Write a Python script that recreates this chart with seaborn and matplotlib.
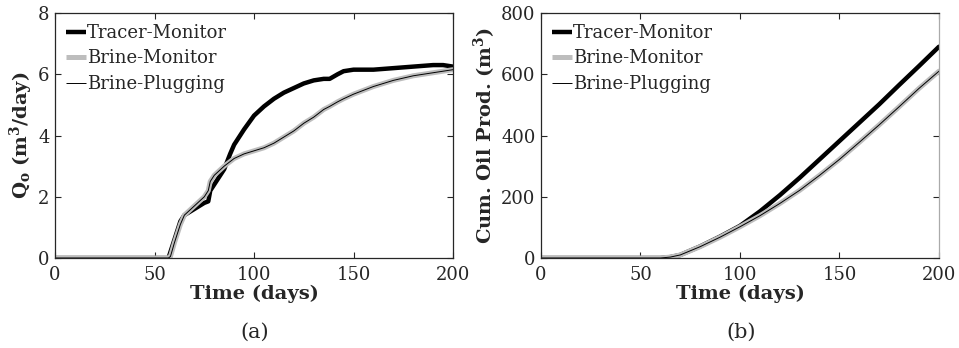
import pandas as pd
import matplotlib
matplotlib.use('Agg')
import matplotlib.pyplot as plt
import seaborn as sns

# Oil rate (panel a)
rate_days = [0, 57, 58, 60, 63, 65, 70, 75, 77, 78, 80, 85, 88, 90, 95, 100, 105, 110,
             115, 120, 125, 130, 135, 138, 142, 145, 150, 160, 170, 180, 190, 195, 200]
rate_tracer = [0, 0, 0.2, 0.6, 1.2, 1.4, 1.6, 1.8, 1.85, 2.2, 2.4, 2.9, 3.4, 3.7, 4.2, 4.65,
               4.95, 5.2, 5.4, 5.55, 5.7, 5.8, 5.85, 5.85, 6.0, 6.1, 6.15, 6.15, 6.2, 6.25,
               6.3, 6.3, 6.25]
rate_brine_mon = [0, 0, 0.05, 0.5, 1.1, 1.4, 1.7, 2.0, 2.2, 2.5, 2.7, 3.0, 3.15, 3.25, 3.4,
                  3.5, 3.6, 3.75, 3.95, 4.15, 4.4, 4.6, 4.85, 4.95, 5.1, 5.2, 5.35, 5.6, 5.8,
                  5.95, 6.05, 6.1, 6.15]
rate_brine_plug = [0, 0, 0.05, 0.5, 1.1, 1.4, 1.7, 2.0, 2.2, 2.5, 2.7, 3.0, 3.15, 3.25, 3.4,
                   3.5, 3.6, 3.75, 3.95, 4.15, 4.4, 4.6, 4.85, 4.95, 5.1, 5.2, 5.35, 5.6, 5.8,
                   5.95, 6.05, 6.1, 6.15]

# Cumulative oil (panel b)
cum_days = [0, 60, 65, 70, 80, 90, 100, 110, 120, 130, 140, 150, 160, 170, 180, 190, 200]
cum_tracer = [0, 0, 3, 10, 38, 70, 105, 152, 205, 262, 322, 382, 442, 502, 565, 627, 690]
cum_brine_mon = [0, 0, 3, 10, 37, 68, 102, 138, 178, 221, 270, 322, 378, 435, 494, 554, 610]
cum_brine_plug = [0, 0, 3, 10, 37, 68, 102, 138, 178, 221, 270, 322, 378, 435, 494, 554, 610]

series_names = ['Tracer-Monitor', 'Brine-Monitor', 'Brine-Plugging']
styles = {'Tracer-Monitor': dict(color='black', linewidth=3.2),
          'Brine-Monitor': dict(color='#bdbdbd', linewidth=3.6),
          'Brine-Plugging': dict(color='black', linewidth=0.7)}

sns.set_style('ticks')
plt.rcParams['font.family'] = ['DejaVu Serif']
plt.rcParams['mathtext.fontset'] = 'dejavuserif'
plt.rcParams['xtick.direction'] = 'in'
plt.rcParams['ytick.direction'] = 'in'

fig = plt.figure(figsize=(9.59, 3.48), dpi=100)
ax_a = fig.add_axes([0.0574, 0.2586, 0.415, 0.704])
ax_b = fig.add_axes([0.5641, 0.2586, 0.415, 0.704])


def draw(ax, days, values, ylim, yticks, ylabel):
    for name, vals in zip(series_names, values):
        df = pd.DataFrame({'day': days, 'val': vals})
        sns.lineplot(data=df, x='day', y='val', ax=ax, label=name, **styles[name])
    ax.set_xlim(0, 200)
    ax.set_ylim(*ylim)
    ax.set_xticks([0, 50, 100, 150, 200])
    ax.set_yticks(yticks)
    ax.tick_params(top=True, right=True, labelsize=13, length=4, width=0.8, pad=4)
    ax.tick_params(axis='x', pad=6)
    for sp in ax.spines.values():
        sp.set_linewidth(0.9)
    ax.set_xlabel('Time (days)', fontsize=14, fontweight='bold', labelpad=0)
    ax.set_ylabel(ylabel, fontsize=14, fontweight='bold', labelpad=2)
    leg = ax.legend(loc='upper left', frameon=False, fontsize=13, handlelength=1.1,
                    handletextpad=0.05, labelspacing=0.42, borderaxespad=0.25, borderpad=0.35)
    for ln in leg.get_lines():
        ln.set_solid_capstyle('butt')


draw(ax_a, rate_days, [rate_tracer, rate_brine_mon, rate_brine_plug], (0, 8),
     [0, 2, 4, 6, 8], r'$\mathbf{Q}_{\mathbf{o}}$ (m$^\mathbf{3}$/day)')
draw(ax_b, cum_days, [cum_tracer, cum_brine_mon, cum_brine_plug], (0, 800),
     [0, 200, 400, 600, 800], r'Cum. Oil Prod. (m$^\mathbf{3}$)')
ax_b.spines['right'].set_color('#aaaaaa')

fig.text(0.266, 0.045, '(a)', ha='center', va='center', fontsize=15)
fig.text(0.773, 0.045, '(b)', ha='center', va='center', fontsize=15)

fig.savefig('out.png', dpi=100)
